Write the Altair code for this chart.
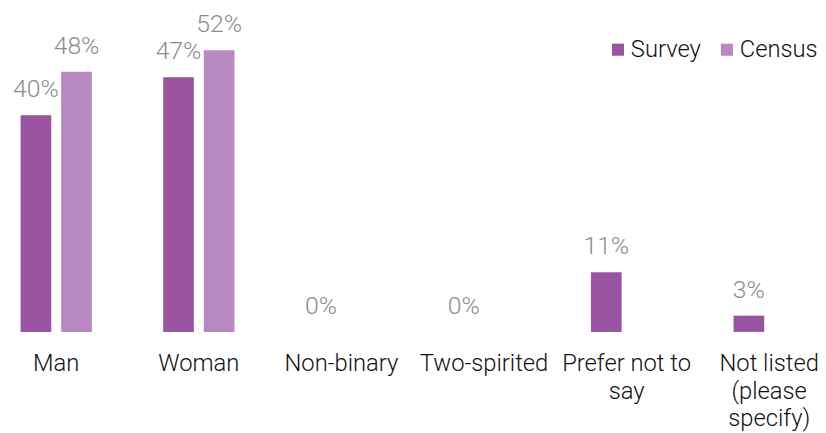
import altair as alt
import pandas as pd

categories = ["Man", "Woman", "Non-binary", "Two-spirited", "Prefer not to say", "Not listed (please specify)"]
survey = [40, 47, 0, 0, 11, 3]
census = [48, 52, None, None, None, None]
series = ["Survey", "Census"]
colors = ["#9a55a2", "#b889c0"]

rows = []
for c, s, k in zip(categories, survey, census):
    rows.append({"category": c, "series": "Survey", "value": s})
    if k is not None:
        rows.append({"category": c, "series": "Census", "value": k})
df = pd.DataFrame(rows)
df["label"] = df["value"].map(lambda v: f"{v:.0f}%")

FONT = "Roboto"

label_expr = (
    "datum.value == 'Prefer not to say' ? ['Prefer not to', 'say'] : "
    "datum.value == 'Not listed (please specify)' ? ['Not listed', '(please', 'specify)'] : datum.value"
)

x = alt.X(
    "category:N",
    sort=categories,
    scale=alt.Scale(domain=categories, range=[-23.3, 840.7], paddingInner=0, paddingOuter=0),
    axis=alt.Axis(
        title=None, domain=False, ticks=False, labelAngle=0, labelFont=FONT,
        labelFontSize=24, labelFontWeight=300, labelColor="#111111", labelPadding=20,
        labelLineHeight=28, labelBaseline="top", labelExpr=label_expr,
    ),
)
y = alt.Y("value:Q", scale=alt.Scale(domain=[0, 59.4], nice=False), axis=None)
color = alt.Color(
    "series:N",
    scale=alt.Scale(domain=series, range=colors),
    legend=alt.Legend(
        title=None, orient="none", legendX=604, legendY=28, direction="horizontal",
        symbolType="square", symbolSize=150, symbolStrokeWidth=0, labelFont=FONT,
        labelFontSize=24, labelFontWeight=300, labelColor="#111111", labelOffset=1,
        columnPadding=14,
    ),
)

layers = []
for name, off in [("Survey", -20.5), ("Census", 20.5)]:
    sub = alt.Chart(df).transform_filter(alt.datum.series == name)
    bars = sub.mark_bar(size=31, xOffset=off).encode(x=x, y=y, color=color)
    txt = sub.mark_text(
        xOffset=off, dy=-18, baseline="alphabetic", font=FONT, fontSize=25,
        fontWeight=300, color="#8c8c8c",
    ).encode(x=x, y=y, text="label:N")
    layers += [bars, txt]

chart = (
    alt.layer(*layers)
    .properties(
        width=810, height=325, autosize="none", background="white",
        padding={"left": 0, "top": 0, "right": 8, "bottom": 100},
    )
    .configure_view(strokeOpacity=0, strokeWidth=0)
)

chart.save("out.html", embed_options={"renderer": "svg", "actions": False})
